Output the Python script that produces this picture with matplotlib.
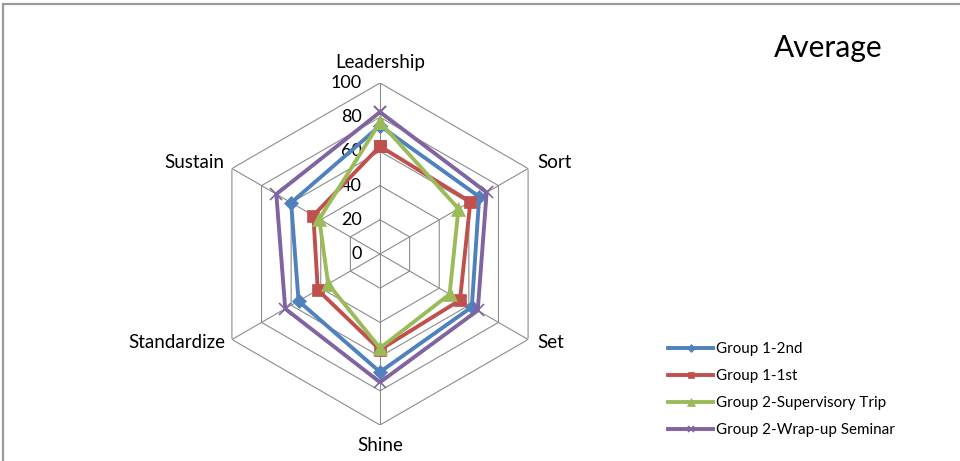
import numpy as np
import matplotlib.pyplot as plt
from matplotlib.patches import Rectangle

plt.rcParams["font.family"] = ["Lato", "DejaVu Sans"]

categories = ["Leadership", "Sort", "Set", "Shine", "Standardize", "Sustain"]
group1_2nd = [75, 67, 62, 69, 55, 60]
group1_1st = [63, 61, 54, 56, 42, 45]
group2_trip = [77, 53, 47, 55, 35, 41]
group2_seminar = [83, 72, 66, 75, 64, 70]
series_names = ["Group 1-2nd", "Group 1-1st",
                "Group 2-Supervisory Trip", "Group 2-Wrap-up Seminar"]
ticks = [0, 20, 40, 60, 80, 100]

W, H = 960, 461
fig = plt.figure(figsize=(W / 100, H / 100), dpi=100)

# outer chart border (only top and left edges visible)
fig.patches.append(Rectangle((3 / W, -0.1), 1.2, (H - 4) / H + 0.1,
                             transform=fig.transFigure, fill=False,
                             edgecolor="#9a9a9a", lw=1.6))

cx, cy, R = 380, 254, 171
ax = fig.add_axes([(cx - R) / W, (H - cy - R) / H, 2 * R / W, 2 * R / H],
                  projection="polar")
ax.set_theta_zero_location("N")
ax.set_theta_direction(-1)
ax.set_ylim(0, 100)
ax.grid(False)
ax.spines["polar"].set_visible(False)
ax.set_xticks([])
ax.set_yticks([])
ax.patch.set_alpha(0)

n = len(categories)
angles = np.arange(n) * 2 * np.pi / n
closed = np.append(angles, angles[0])

grid_col = "#8c8c8c"
for t in ticks[1:]:
    ax.plot(closed, [t] * (n + 1), color=grid_col, lw=0.8, zorder=1)
for a in angles:
    ax.plot([a, a], [0, 100], color=grid_col, lw=0.8, zorder=1)

for t in ticks:
    ax.annotate(str(t), xy=(0, t), xytext=(-13, 0), textcoords="offset points",
                ha="right", va="center", fontsize=13, color="black")

# category labels around the outside
offsets = [(0, 15, "center", "center"), (7, 4, "left", "center"),
           (7, -2, "left", "center"), (0, -14.5, "center", "center"),
           (-4.5, -2, "right", "center"), (-5.5, 4, "right", "center")]
for a, lab, (dx, dy, ha, va) in zip(angles, categories, offsets):
    ax.annotate(lab, xy=(a, 100), xytext=(dx, dy), textcoords="offset points",
                ha=ha, va=va, fontsize=13.5)

colors = ["#4F81BD", "#C0504D", "#9BBB59", "#8064A2"]
markers = ["D", "s", "^", "x"]
msizes = [7.5, 9, 9.5, 9]
all_series = [group1_2nd, group1_1st, group2_trip, group2_seminar]
handles = []
for vals, name, c, m, ms in zip(all_series, series_names, colors, markers, msizes):
    v = np.append(vals, vals[0])
    h, = ax.plot(closed, v, color=c, lw=2.8, marker=m, markersize=ms,
                 markeredgewidth=1.2 if m == "x" else 0.5,
                 markeredgecolor=c, markerfacecolor=c, label=name, zorder=3,
                 clip_on=False)
    handles.append(h)

fig.text(828 / W, 1 - 48 / H, "Average", ha="center", va="center", fontsize=21.5)

fig.legend(handles=handles, loc="upper left",
           bbox_to_anchor=(668 / W, 1 - 342 / H), frameon=False,
           fontsize=10.9, handlelength=3.0, handletextpad=0.2,
           labelspacing=0.86, borderpad=0, borderaxespad=0, markerscale=0.55)

fig.savefig("out.png", dpi=100)
